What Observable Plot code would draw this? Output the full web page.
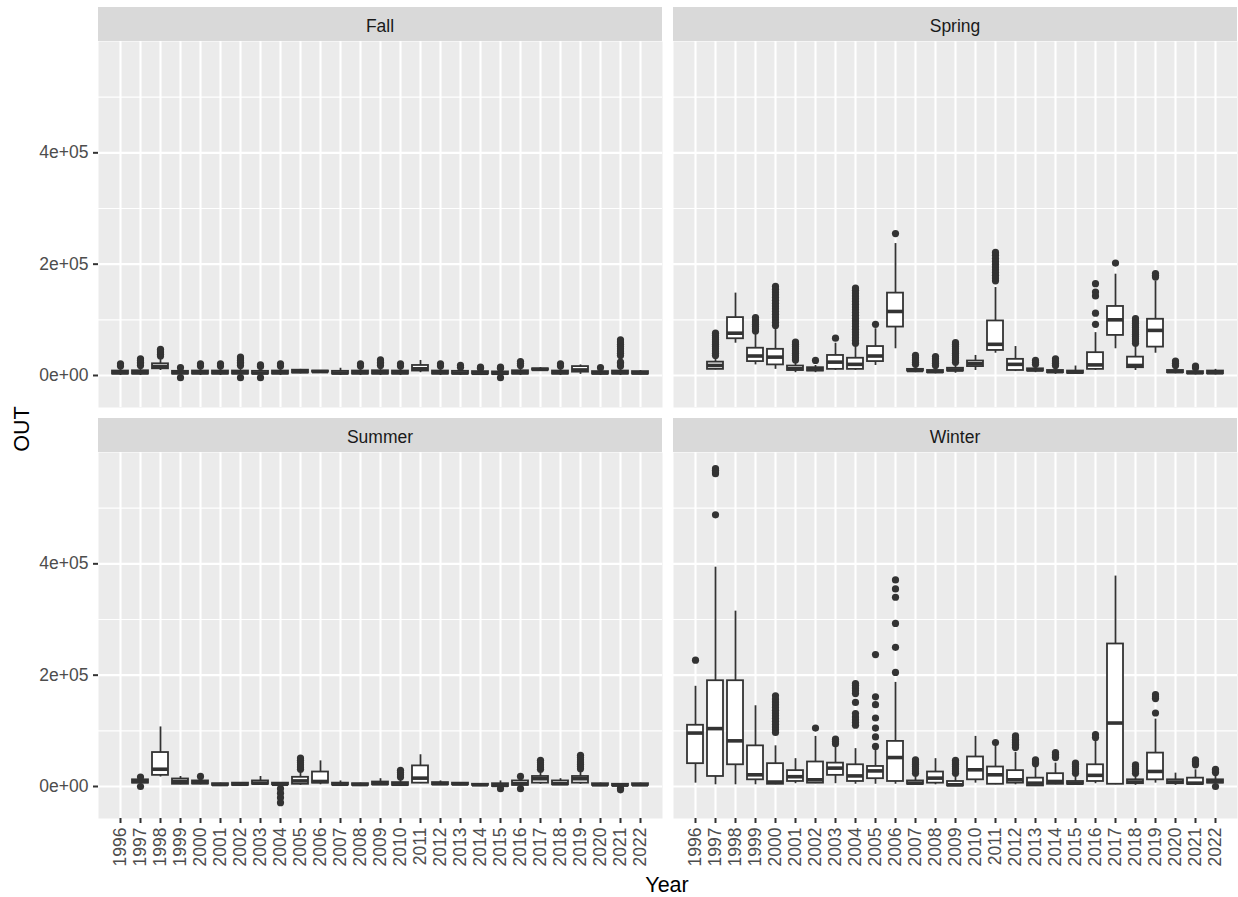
<!DOCTYPE html>
<html>
<head>
<meta charset="utf-8">
<script src="https://cdn.jsdelivr.net/npm/d3@7"></script>
<script src="https://cdn.jsdelivr.net/npm/@observablehq/plot@0.6"></script>
<style>
  html, body { margin: 0; padding: 0; background: #ffffff; }
  #root { position: relative; width: 1238px; height: 897px; font-family: "Liberation Sans", Arial, sans-serif; }
  .panel { position: absolute; }
  .strip { position: absolute; box-sizing: border-box; padding-top: 5px; background: #D9D9D9; color: #1A1A1A; font-size: 17.5px; display: flex; align-items: center; justify-content: center; }
  .title { position: absolute; color: #000000; font-size: 21.5px; }
</style>
</head>
<body>
<div id="root"></div>
<script>
// ---------- categories & tick labels ----------
const years = ["1996","1997","1998","1999","2000","2001","2002","2003","2004","2005","2006","2007","2008","2009","2010","2011","2012","2013","2014","2015","2016","2017","2018","2019","2020","2021","2022"];
const seasons = ["Fall", "Spring", "Summer", "Winter"];
const yTicks = [0, 200000, 400000];
const yTickLabels = ["0e+00", "2e+05", "4e+05"];
const yMinor = [100000, 300000, 500000];
const yDomain = [-57500, 600000];

// ---------- Fall ----------
const fallLo  = [0, 0, 9000, -1000, 0, 0, -1000, -1000, 0, 3000, 5000, 0, 0, 0, 0, 5000, 0, 0, 0, -1000, 0, 8000, 0, 2000, 0, 0, 1000];
const fallQ1  = [2500, 2500, 12000, 2500, 2500, 2500, 2500, 2500, 2500, 4500, 6000, 2500, 2500, 2500, 2500, 8000, 2500, 2500, 2500, 2000, 2500, 9500, 2500, 6000, 2500, 2500, 2500];
const fallMed = [5000, 5000, 16000, 5000, 5000, 5000, 5000, 4500, 5000, 7000, 7000, 4500, 5000, 5000, 5000, 12000, 5000, 4500, 4000, 4000, 5000, 11000, 5000, 10000, 4500, 5000, 4500];
const fallQ3  = [8000, 8500, 21000, 7500, 8000, 8000, 8000, 7500, 8000, 9500, 8000, 7500, 8000, 8500, 8000, 18000, 8000, 7500, 7000, 6500, 8500, 12000, 8000, 16000, 7000, 8000, 7000];
const fallHi  = [14000, 15000, 30000, 11000, 14000, 14000, 15000, 13000, 14000, 11000, 9000, 13000, 14000, 15000, 14000, 27000, 14000, 12000, 11000, 10000, 15000, 14000, 14000, 19000, 11000, 14000, 9000];
const fallOut = [
  ["1996",17000],["1996",21000],
  ["1997",18000],["1997",21000],["1997",24000],["1997",27000],["1997",30000],
  ["1998",35000],["1998",38000],["1998",41000],["1998",44000],["1998",47000],
  ["1999",14000],["1999",-4000],
  ["2000",17000],["2000",21000],
  ["2001",17000],["2001",21000],
  ["2002",18000],["2002",21000],["2002",24000],["2002",27000],["2002",30000],["2002",33000],["2002",-4000],
  ["2003",16000],["2003",19000],["2003",-4000],
  ["2004",17000],["2004",21000],
  ["2008",17000],["2008",21000],
  ["2009",18000],["2009",21000],["2009",24000],["2009",28000],
  ["2010",17000],["2010",21000],
  ["2012",17000],["2012",21000],
  ["2013",15000],["2013",18000],
  ["2014",13000],["2014",15000],
  ["2015",13000],["2015",15000],["2015",-4000],
  ["2016",18000],["2016",22000],["2016",25000],
  ["2018",17000],["2018",21000],
  ["2020",14000],
  ["2021",17000],["2021",21000],["2021",24000],["2021",36000],["2021",40000],["2021",44000],["2021",48000],["2021",52000],["2021",56000],["2021",60000],["2021",64000]
];

// ---------- Spring ----------
const springLo  = [null, 10000, 58000, 19000, 11000, 5000, 5000, 9000, 9000, 18000, 48000, 5000, 3000, 4000, 9000, 40000, 7000, 5000, 2000, 2000, 9000, 48000, 9000, 40000, 3000, 1000, 1000];
const springQ1  = [null, 11000, 66000, 25000, 19000, 9000, 8000, 11000, 11000, 25000, 87000, 8000, 5000, 8000, 16000, 45000, 9000, 8000, 5000, 4000, 11000, 72000, 14000, 51000, 5000, 3000, 3000];
const springMed = [null, 18000, 76000, 35000, 33000, 12000, 11000, 24000, 20000, 35000, 115000, 9000, 7000, 10000, 21000, 56000, 20000, 10000, 7000, 6000, 19000, 100000, 18000, 81000, 7000, 5000, 5000];
const springQ3  = [null, 24000, 104000, 49000, 47000, 17000, 14000, 36000, 31000, 52000, 148000, 11000, 9000, 13000, 26000, 98000, 29000, 12000, 9000, 8000, 41000, 124000, 33000, 101000, 9000, 7000, 8000];
const springHi  = [null, 33000, 148000, 76000, 87000, 24000, 18000, 58000, 55000, 84000, 237000, 16000, 14000, 20000, 36000, 158000, 52000, 16000, 14000, 17000, 77000, 182000, 54000, 170000, 14000, 11000, 11000];
const springOut = [
  ["1997",36000],["1997",40000],["1997",44000],["1997",48000],["1997",52000],["1997",56000],["1997",60000],["1997",64000],["1997",68000],["1997",72000],["1997",76000],
  ["1999",80000],["1999",84000],["1999",88000],["1999",92000],["1999",96000],["1999",100000],["1999",104000],
  ["2000",90000],["2000",95000],["2000",100000],["2000",105000],["2000",110000],["2000",115000],["2000",120000],["2000",125000],["2000",130000],["2000",135000],["2000",140000],["2000",145000],["2000",150000],["2000",155000],["2000",160000],
  ["2001",28000],["2001",32000],["2001",36000],["2001",40000],["2001",44000],["2001",48000],["2001",52000],["2001",56000],["2001",60000],
  ["2002",27000],
  ["2003",67000],
  ["2004",58000],["2004",63000],["2004",68000],["2004",73000],["2004",78000],["2004",83000],["2004",88000],["2004",93000],["2004",98000],["2004",103000],["2004",108000],["2004",113000],["2004",118000],["2004",123000],["2004",128000],["2004",133000],["2004",138000],["2004",143000],["2004",148000],["2004",153000],["2004",157000],
  ["2005",92000],
  ["2006",255000],
  ["2007",20000],["2007",24000],["2007",28000],["2007",32000],["2007",36000],
  ["2008",18000],["2008",22000],["2008",26000],["2008",30000],["2008",34000],
  ["2009",24000],["2009",28000],["2009",32000],["2009",36000],["2009",40000],["2009",44000],["2009",48000],["2009",52000],["2009",56000],["2009",59000],
  ["2011",170000],["2011",175000],["2011",180000],["2011",185000],["2011",190000],["2011",195000],["2011",200000],["2011",205000],["2011",210000],["2011",216000],["2011",221000],
  ["2013",20000],["2013",24000],["2013",27000],
  ["2014",18000],["2014",22000],["2014",26000],["2014",30000],
  ["2016",92000],["2016",112000],["2016",143000],["2016",150000],["2016",165000],
  ["2017",202000],
  ["2018",58000],["2018",62000],["2018",66000],["2018",70000],["2018",74000],["2018",78000],["2018",82000],["2018",86000],["2018",90000],["2018",94000],["2018",98000],["2018",102000],
  ["2019",177000],["2019",180000],["2019",183000],
  ["2020",18000],["2020",22000],["2020",26000],
  ["2021",14000],["2021",17000]
];

// ---------- Summer ----------
const summerLo  = [null, 3000, 17000, 3000, 3000, 1000, 1000, 2000, 1000, 2000, 3000, 1000, 1000, 2000, 1000, 5000, 2000, 2000, 1000, -2000, 0, 4000, 2000, 4000, 1000, 0, 1000];
const summerQ1  = [null, 6000, 20000, 4000, 4500, 2000, 2000, 4000, 3000, 4000, 6000, 2500, 2000, 3000, 2000, 6000, 3000, 3000, 2000, 0, 2000, 6000, 3000, 6000, 2000, 1000, 2000];
const summerMed = [null, 9000, 31000, 9000, 7000, 3500, 4000, 6000, 4000, 10000, 9000, 4000, 3500, 5000, 4000, 15000, 5000, 4500, 3000, 2000, 5000, 14000, 5000, 14000, 3000, 2500, 3000];
const summerQ3  = [null, 12000, 61000, 13500, 10000, 5000, 6000, 10000, 6000, 16500, 26000, 6000, 5000, 8000, 7000, 37000, 7000, 6000, 4000, 5000, 10000, 18000, 10000, 18000, 5000, 4000, 5000];
const summerHi  = [null, 14000, 107000, 18000, 14000, 6000, 7000, 18000, 7000, 28000, 46000, 10000, 6000, 14000, 13000, 57000, 10000, 7000, 5000, 10000, 15000, 27000, 14000, 28000, 6000, 5000, 6000];
const summerOut = [
  ["1997",0],["1997",17000],
  ["2000",18000],
  ["2004",-4000],["2004",-12000],["2004",-20000],["2004",-29000],
  ["2005",31000],["2005",35000],["2005",39000],["2005",43000],["2005",47000],["2005",51000],
  ["2010",17000],["2010",21000],["2010",25000],["2010",29000],
  ["2015",-4000],
  ["2016",18000],["2016",-4000],
  ["2017",31000],["2017",35000],["2017",39000],["2017",43000],["2017",47000],
  ["2019",32000],["2019",36000],["2019",40000],["2019",44000],["2019",48000],["2019",52000],["2019",56000],
  ["2021",-3000],["2021",-6000]
];

// ---------- Winter ----------
const winterLo  = [6000, 3000, 3000, 3000, 3000, 5000, 5000, 5000, 4000, 4000, 4000, 2000, 3000, 0, 6000, 3000, 3000, 0, 3000, 2000, 5000, 3000, 2000, 6000, 2000, 3000, 4000];
const winterQ1  = [41000, 18000, 39000, 12000, 4000, 9000, 6000, 20000, 9000, 14000, 9000, 4000, 6000, 1000, 12000, 4000, 6000, 1000, 4000, 4000, 9000, 4000, 5000, 12000, 5000, 4000, 6000];
const winterMed = [96000, 104000, 82000, 21000, 8000, 17600, 12000, 33000, 19000, 28000, 52000, 6000, 15000, 3000, 30000, 21000, 12000, 6000, 9000, 6000, 20000, 114000, 8000, 27000, 8000, 6000, 9000];
const winterQ3  = [110000, 190000, 190000, 73000, 41000, 28500, 44000, 42000, 39000, 36000, 81000, 10000, 26000, 9000, 53000, 35000, 28500, 15000, 23000, 9000, 39000, 256000, 12000, 60000, 12000, 15000, 12000];
const winterHi  = [180000, 394000, 315000, 145000, 73000, 50000, 90000, 73000, 68000, 68000, 187000, 20000, 50000, 20000, 90000, 76000, 61000, 36000, 42000, 20000, 82000, 378000, 20000, 121000, 24000, 30000, 20000];
const winterOut = [
  ["1996",227000],
  ["1997",488000],["1997",562000],["1997",565000],["1997",568000],["1997",571000],
  ["2000",97000],["2000",102000],["2000",107000],["2000",112000],["2000",117000],["2000",122000],["2000",127000],["2000",132000],["2000",137000],["2000",142000],["2000",147000],["2000",152000],["2000",157000],["2000",163000],
  ["2002",105000],
  ["2003",77000],["2003",81000],["2003",85000],
  ["2004",110000],["2004",115000],["2004",120000],["2004",125000],["2004",131000],["2004",151000],["2004",167000],["2004",172000],["2004",177000],["2004",182000],["2004",185000],
  ["2005",72000],["2005",89000],["2005",105000],["2005",123000],["2005",147000],["2005",161000],["2005",237000],
  ["2006",205000],["2006",250000],["2006",293000],["2006",340000],["2006",355000],["2006",371000],
  ["2007",24000],["2007",28000],["2007",32000],["2007",36000],["2007",40000],["2007",44000],["2007",48000],
  ["2009",24000],["2009",28000],["2009",32000],["2009",36000],["2009",40000],["2009",44000],["2009",47000],
  ["2011",79000],
  ["2012",70000],["2012",73000],["2012",76000],["2012",79000],["2012",82000],["2012",85000],["2012",88000],["2012",91000],
  ["2013",41000],["2013",44000],["2013",48000],
  ["2014",52000],["2014",55000],["2014",58000],["2014",61000],
  ["2015",24000],["2015",28000],["2015",32000],["2015",36000],["2015",40000],["2015",42000],
  ["2016",88000],["2016",93000],
  ["2018",24000],["2018",28000],["2018",32000],["2018",36000],["2018",39000],
  ["2019",132000],["2019",158000],["2019",161000],["2019",165000],
  ["2021",39000],["2021",42000],["2021",45000],["2021",48000],
  ["2022",25000],["2022",28000],["2022",31000],["2022",0]
];

// ---------- drawing ----------
const INK = "#333333";
const LW = 1.8;

function boxRows(lo, q1, med, q3, hi) {
  return years.map((y, i) => ({year: y, lo: lo[i], q1: q1[i], med: med[i], q3: q3[i], hi: hi[i]}))
              .filter(d => d.med != null);
}

function panel({lo, q1, med, q3, hi, out, showX, showY, width, height, marginLeft, marginBottom}) {
  const rows = boxRows(lo, q1, med, q3, hi);
  const pts = out.map(([year, value]) => ({year, value}));
  const marks = [
    Plot.frame({fill: "#EBEBEB", stroke: null}),
    Plot.ruleY(yMinor, {stroke: "#ffffff", strokeWidth: 1.1}),
    Plot.ruleY(yTicks, {stroke: "#ffffff", strokeWidth: 2.1}),
    Plot.gridX(years, {stroke: "#ffffff", strokeOpacity: 1, strokeWidth: 2.1}),
    Plot.ruleX(rows, {x: "year", y1: "lo", y2: "q1", stroke: INK, strokeWidth: LW}),
    Plot.ruleX(rows, {x: "year", y1: "q3", y2: "hi", stroke: INK, strokeWidth: LW}),
    Plot.barY(rows, {x: "year", y1: "q1", y2: "q3", fill: "#ffffff", stroke: INK, strokeWidth: LW}),
    Plot.tickY(rows, {x: "year", y: "med", stroke: INK, strokeWidth: 3.6}),
    Plot.dot(pts, {x: "year", y: "value", r: 3.6, fill: INK, stroke: null})
  ];
  if (showY) {
    marks.push(Plot.axisY(yTicks, {tickFormat: (d, i) => yTickLabels[i], stroke: INK, fill: "#4D4D4D", strokeWidth: 2, tickSize: 5, tickPadding: 5, fontSize: 17.5, label: null}));
  }
  if (showX) {
    marks.push(Plot.axisX(years, {tickRotate: -90, stroke: INK, fill: "#4D4D4D", strokeWidth: 2, tickSize: 5, tickPadding: 4, fontSize: 17.5, label: null}));
  }
  return Plot.plot({
    width, height,
    marginLeft, marginRight: 0, marginTop: 0, marginBottom,
    style: {fontFamily: "'Liberation Sans', Arial, sans-serif", fontSize: "17.5px", background: "transparent", overflow: "visible"},
    x: {type: "band", domain: years, paddingInner: 0.2, paddingOuter: 0.2, axis: null},
    y: {domain: yDomain, axis: null},
    marks
  });
}

const root = document.getElementById("root");
function place(el, left, top) {
  el.classList.add("panel");
  el.style.left = left + "px";
  el.style.top = top + "px";
  root.appendChild(el);
}
function strip(text, left, top) {
  const d = document.createElement("div");
  d.className = "strip";
  d.style.left = left + "px"; d.style.top = top + "px";
  d.style.width = "564px"; d.style.height = "34px";
  d.textContent = text;
  root.appendChild(d);
}

place(panel({lo: fallLo, q1: fallQ1, med: fallMed, q3: fallQ3, hi: fallHi, out: fallOut, showX: false, showY: true, width: 662, height: 366, marginLeft: 98, marginBottom: 0}), 0, 41);
place(panel({lo: springLo, q1: springQ1, med: springMed, q3: springQ3, hi: springHi, out: springOut, showX: false, showY: false, width: 564, height: 366, marginLeft: 0, marginBottom: 0}), 673, 41);
place(panel({lo: summerLo, q1: summerQ1, med: summerMed, q3: summerQ3, hi: summerHi, out: summerOut, showX: true, showY: true, width: 662, height: 426, marginLeft: 98, marginBottom: 60}), 0, 452);
place(panel({lo: winterLo, q1: winterQ1, med: winterMed, q3: winterQ3, hi: winterHi, out: winterOut, showX: true, showY: false, width: 564, height: 426, marginLeft: 0, marginBottom: 60}), 673, 452);

strip(seasons[0], 98, 7);
strip(seasons[1], 673, 7);
strip(seasons[2], 98, 418);
strip(seasons[3], 673, 418);

const yt = document.createElement("div");
yt.className = "title";
yt.textContent = "OUT";
yt.style.left = "22px"; yt.style.top = "429px";
yt.style.transform = "translate(-50%, -50%) rotate(-90deg)";
root.appendChild(yt);

const xt = document.createElement("div");
xt.className = "title";
xt.textContent = "Year";
xt.style.left = "667px"; xt.style.top = "885px";
xt.style.transform = "translate(-50%, -50%)";
root.appendChild(xt);
</script>
</body>
</html>
